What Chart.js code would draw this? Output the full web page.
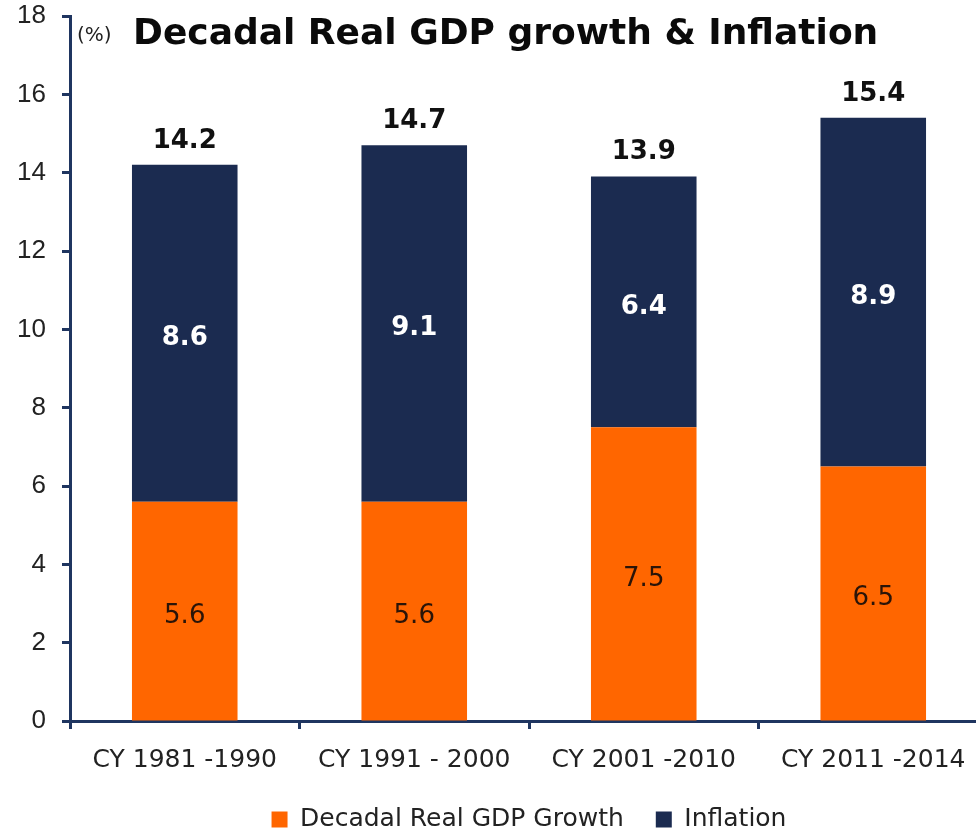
<!DOCTYPE html>
<html>
<head>
<meta charset="utf-8">
<script src="https://cdn.jsdelivr.net/npm/chart.js@4"></script>
<style>
	html, body { margin: 0; padding: 0; background: #fff; overflow: hidden; }
	#wrap { width: 992px; height: 832px; }
</style>
</head>
<body>
<div id="wrap"><canvas id="gdp-viz"></canvas></div>
<script>
// Decadal real GDP growth vs inflation, stacked
var xLabels = [ 'CY 1981 -1990', 'CY 1991 - 2000', 'CY 2001 -2010', 'CY 2011 -2014' ];
var yValues_gdp = [ 5.6, 5.6, 7.5, 6.5 ];
var yValues_infl = [ 8.6, 9.1, 6.4, 8.9 ];
var totals = [ 14.2, 14.7, 13.9, 15.4 ];
var yTicks = [ 0, 2, 4, 6, 8, 10, 12, 14, 16, 18 ];

var ORANGE = '#FF6600';
var NAVY = '#1B2B50';
var AXIS = '#1F3560';

// draws segment values, totals and the title text
var labelPlugin = {
	id: 'barLabels',
	afterDatasetsDraw: function(chart) {
		var ctx = chart.ctx;
		ctx.save();
		ctx.textAlign = 'center';
		ctx.textBaseline = 'middle';
		var meta0 = chart.getDatasetMeta(0), meta1 = chart.getDatasetMeta(1);
		meta0.data.forEach(function(bar, i) {
			ctx.font = '26px "DejaVu Sans"';
			ctx.fillStyle = '#2a1408';
			ctx.fillText(yValues_gdp[i].toFixed(1), bar.x, (bar.y + bar.base) / 2 + 5);
		});
		meta1.data.forEach(function(bar, i) {
			ctx.font = 'bold 26px "DejaVu Sans"';
			ctx.fillStyle = '#ffffff';
			ctx.fillText(yValues_infl[i].toFixed(1), bar.x, (bar.y + bar.base) / 2 + 5);
			ctx.fillStyle = '#111111';
			ctx.fillText(totals[i].toFixed(1), bar.x, bar.y - 24);
		});
		var area = chart.chartArea;
		ctx.textAlign = 'left';
		ctx.font = '20px "DejaVu Sans"';
		ctx.fillStyle = '#222';
		ctx.fillText('(%)', area.left + 7, area.top + 20);
		ctx.font = 'bold 36px "DejaVu Sans"';
		ctx.fillStyle = '#0a0a0a';
		ctx.fillText('Decadal Real GDP growth & Inflation', area.left + 63, area.top + 19);
		ctx.restore();
	}
};

var ctx = document.getElementById('gdp-viz');
var cfg = {
	type: 'bar',
	data: {
		labels: xLabels,
		datasets: [
			{ label: 'Decadal Real GDP Growth', backgroundColor: ORANGE, data: yValues_gdp,
			  barPercentage: 0.92, categoryPercentage: 0.5 },
			{ label: 'Inflation', backgroundColor: NAVY, data: yValues_infl,
			  barPercentage: 0.92, categoryPercentage: 0.5 }
		]
	},
	options: {
		responsive: true,
		maintainAspectRatio: false,
		animation: false,
		layout: { padding: { top: 16, left: 0, right: 4, bottom: 0 } },
		plugins: {
			legend: {
				position: 'bottom',
				fullSize: false,
				maxHeight: 57,
				labels: { boxWidth: 16, boxHeight: 16, padding: 32, color: '#222',
				          font: { family: '"DejaVu Sans"', size: 25 } }
			},
			tooltip: { enabled: false }
		},
		scales: {
			x: {
				stacked: true,
				afterFit: function(scale) { scale.height = 54; },
				grid: { display: true, drawOnChartArea: false, drawTicks: true, tickLength: 8,
				        offset: true, color: AXIS, tickWidth: 3 },
				border: { color: AXIS, width: 3 },
				ticks: { color: '#222', padding: 16, font: { family: '"DejaVu Sans"', size: 25 } }
			},
			y: {
				stacked: true,
				min: 0, max: 18,
				afterBuildTicks: function(scale) { scale.ticks = yTicks.map(function(v) { return { value: v }; }); },
				afterFit: function(scale) { scale.width = 70; scale.paddingTop = 0; },
				grid: { drawOnChartArea: false, drawTicks: true, tickLength: 8, color: AXIS, tickWidth: 3 },
				border: { color: AXIS, width: 3 },
				ticks: { color: '#222', padding: 16, font: { family: '"Liberation Sans"', size: 26 } }
			}
		}
	},
	plugins: [ labelPlugin ]
};
new Chart(ctx, cfg);
</script>
</body>
</html>
